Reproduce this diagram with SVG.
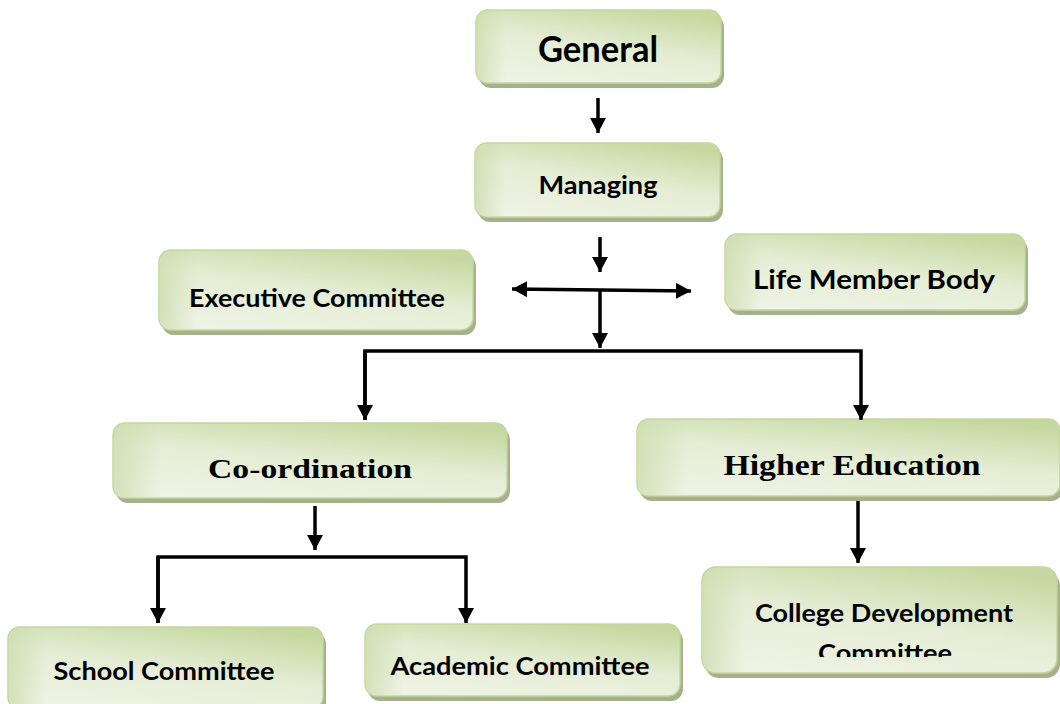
<svg xmlns="http://www.w3.org/2000/svg" width="1060" height="704" viewBox="0 0 1060 704">
<style>
.box{fill:url(#g);stroke:#c3d69b;stroke-width:1.5}
.edge{fill:url(#g2)}
.sh{fill:#a6b08c}
.t{font-family:Lato,"Liberation Sans",sans-serif;font-weight:bold;fill:#000;text-anchor:middle}
.s{font-family:"Liberation Serif",serif;font-weight:bold;fill:#000;text-anchor:middle}
.c{stroke:#000;stroke-width:3.5;fill:none}
.a{stroke:#000;stroke-width:3.5;fill:none;marker-end:url(#ah)}
</style>
<defs>
<linearGradient id="g" x1="0.25" y1="1" x2="0.75" y2="0">
<stop offset="0" stop-color="#eef3e4"/>
<stop offset="0.5" stop-color="#e5edd5"/>
<stop offset="1" stop-color="#c5d8a0"/>
</linearGradient>
<linearGradient id="g2" x1="0" y1="0" x2="1" y2="0">
<stop offset="0" stop-color="#cddcaf" stop-opacity="0.8"/>
<stop offset="0.12" stop-color="#cddcaf" stop-opacity="0"/>
</linearGradient>
<marker id="ah" markerUnits="userSpaceOnUse" markerWidth="18" markerHeight="18" refX="15" refY="8" orient="auto-start-reverse">
<path d="M0,0 L15,8 L0,16 z" fill="#000"/>
</marker>
<clipPath id="clipC"><rect x="690" y="560" width="370" height="97"/></clipPath>
</defs>

<g id="general">
<rect class="sh" x="479" y="15" width="245" height="73" rx="12"/>
<rect class="box" x="476" y="10" width="245" height="73" rx="12"/>
<rect class="edge" x="477" y="11" width="243" height="71" rx="11"/>
<text class="t" x="598" y="62" font-size="37" textLength="120" lengthAdjust="spacingAndGlyphs">General</text>
</g>

<g id="managing">
<rect class="sh" x="478" y="148" width="245" height="74" rx="12"/>
<rect class="box" x="475" y="143" width="245" height="74" rx="12"/>
<rect class="edge" x="476" y="144" width="243" height="72" rx="11"/>
<text class="t" x="598" y="194" font-size="24" textLength="119" lengthAdjust="spacingAndGlyphs">Managing</text>
</g>

<g id="executive">
<rect class="sh" x="162" y="255" width="314" height="80" rx="12"/>
<rect class="box" x="159" y="250" width="314" height="80" rx="12"/>
<rect class="edge" x="160" y="251" width="312" height="78" rx="11"/>
<text class="t" x="317" y="307" font-size="25" textLength="256" lengthAdjust="spacingAndGlyphs">Executive Committee</text>
</g>

<g id="lifemember">
<rect class="sh" x="728" y="239" width="300" height="76" rx="12"/>
<rect class="box" x="725" y="234" width="300" height="76" rx="12"/>
<rect class="edge" x="726" y="235" width="298" height="74" rx="11"/>
<text class="t" x="874" y="289" font-size="26" textLength="242" lengthAdjust="spacingAndGlyphs">Life Member Body</text>
</g>

<g id="coordination">
<rect class="sh" x="116" y="428" width="394" height="75" rx="12"/>
<rect class="box" x="113" y="423" width="394" height="75" rx="12"/>
<rect class="edge" x="114" y="424" width="392" height="73" rx="11"/>
<text class="s" x="310" y="478" font-size="27" textLength="204" lengthAdjust="spacingAndGlyphs">Co-ordination</text>
</g>

<g id="highereducation">
<rect class="sh" x="640" y="424" width="423" height="77" rx="12"/>
<rect class="box" x="637" y="419" width="423" height="77" rx="12"/>
<rect class="edge" x="638" y="420" width="421" height="75" rx="11"/>
<text class="s" x="852" y="475" font-size="30" textLength="257" lengthAdjust="spacingAndGlyphs">Higher Education</text>
</g>

<g id="collegedev">
<rect class="sh" x="705" y="572" width="355" height="106" rx="14"/>
<rect class="box" x="702" y="567" width="355" height="106" rx="14"/>
<rect class="edge" x="703" y="568" width="353" height="104" rx="13"/>
<text class="t" x="884" y="622" font-size="25" textLength="258" lengthAdjust="spacingAndGlyphs">College Development</text>
<text class="t" x="885" y="662" font-size="25" textLength="134" lengthAdjust="spacingAndGlyphs" clip-path="url(#clipC)">Committee</text>
</g>

<g id="school">
<rect class="sh" x="11" y="632" width="315" height="82" rx="12"/>
<rect class="box" x="8" y="627" width="315" height="82" rx="12"/>
<rect class="edge" x="9" y="628" width="313" height="80" rx="11"/>
<text class="t" x="164" y="680" font-size="24" textLength="221" lengthAdjust="spacingAndGlyphs">School Committee</text>
</g>

<g id="academic">
<rect class="sh" x="368" y="629" width="315" height="72" rx="12"/>
<rect class="box" x="365" y="624" width="315" height="72" rx="12"/>
<rect class="edge" x="366" y="625" width="313" height="70" rx="11"/>
<text class="t" x="520" y="675" font-size="24" textLength="259" lengthAdjust="spacingAndGlyphs">Academic Committee</text>
</g>

<g id="connectors">
<line class="a" x1="598" y1="98" x2="598" y2="133"/>
<line class="a" x1="600" y1="237" x2="600" y2="272"/>
<path class="c" d="M512,289 L691,291" marker-start="url(#ah)" marker-end="url(#ah)"/>
<line class="a" x1="600" y1="290" x2="600" y2="348"/>
<path class="a" d="M365,420 L365,351 L861,351 L861,420"/>
<path class="a" d="M365,351 L365,420"/>
<line class="a" x1="315" y1="506" x2="315" y2="550"/>
<path class="a" d="M158,623 L158,557 L466,557 L466,623"/>
<path class="a" d="M158,557 L158,623"/>
<line class="a" x1="858" y1="501" x2="858" y2="563"/>
</g>
</svg>
